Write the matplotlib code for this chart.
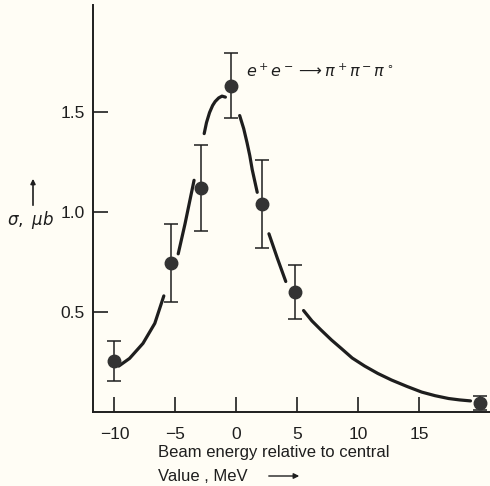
import matplotlib.pyplot as plt
import numpy as np

# measured points (beam energy in MeV, cross section in microbarn)
energy = [-10, -5.4, -2.9, -0.45, 2.1, 4.8, 20.0]
sigma = [0.256, 0.743, 1.12, 1.63, 1.04, 0.60, 0.045]
sigma_err = [0.10, 0.195, 0.215, 0.16, 0.22, 0.135, 0.035]

# hand drawn fit curve, broken up near each point (nan = gap)
curve_x = [-9.64, -8.76, -7.66, -6.69, -5.95, np.nan,
           -4.77, -4.21, -3.47, np.nan,
           -2.64, -2.45, -2.2, -1.95, -1.74, -1.45, -1.18, -0.9, np.nan,
           0.27, 0.6, 0.88, 1.10, 1.30, 1.71, np.nan,
           2.67, 3.36, 4.05, np.nan,
           5.51, 6.2, 6.94, 7.8, 8.60, 9.5, 10.52, 11.6, 12.73, 14.0,
           15.2, 16.3, 17.4, 18.3, 19.2]
curve_y = [0.23, 0.268, 0.343, 0.443, 0.58, np.nan,
           0.79, 0.94, 1.157, np.nan,
           1.39, 1.445, 1.495, 1.53, 1.55, 1.568, 1.577, 1.572, np.nan,
           1.48, 1.415, 1.343, 1.28, 1.21, 1.097, np.nan,
           0.89, 0.768, 0.652, np.nan,
           0.507, 0.455, 0.41, 0.36, 0.318, 0.27, 0.23, 0.193, 0.16, 0.128,
           0.10, 0.082, 0.068, 0.061, 0.056]

xticks = [-10, -5, 0, 5, 10, 15]
yticks = [0.5, 1.0, 1.5]

plt.rcParams['font.family'] = ['Liberation Sans', 'DejaVu Sans']

fig = plt.figure(figsize=(4.9, 4.86), dpi=100, facecolor='#fffdf5')
ax = fig.add_axes([0.19, 0.152, 0.81, 0.837])
ax.set_facecolor('#fffdf5')

ink = '#1e1e1e'
ax.plot(curve_x, curve_y, color=ink, lw=2.3, solid_capstyle='round')
ax.errorbar(energy, sigma, yerr=sigma_err, fmt='o', color='#333333',
            ms=9, ecolor=ink, elinewidth=1.1, capsize=5, capthick=1.1)

ax.set_xlim(-11.75, 20.8)
ax.set_ylim(0, 2.03)
ax.set_xticks(xticks)
ax.set_xticklabels(['\u221210', '\u22125', '0', '5', '10', '15'])
ax.set_yticks(yticks)
ax.set_yticklabels(['0.5', '1.0', '1.5'])
ax.tick_params(direction='in', length=11, width=1.2, color=ink,
               labelsize=12.5, labelcolor=ink)
ax.tick_params(axis='x', pad=11)
ax.tick_params(axis='y', pad=6)
for s in ['top', 'right']:
    ax.spines[s].set_visible(False)
for s in ['left', 'bottom']:
    ax.spines[s].set_linewidth(1.4)
    ax.spines[s].set_color(ink)

ax.text(0.8, 1.70, r'$e^+e^-\longrightarrow\pi^+\pi^-\pi^\circ$',
        fontsize=11.5, color=ink, va='center')

# axis labels drawn as free text like the original
fig.text(158 / 490, 1 - 452 / 486, 'Beam energy relative to central',
         fontsize=12, color=ink, va='center')
fig.text(158 / 490, 1 - 476 / 486, 'Value , MeV', fontsize=12,
         color=ink, va='center')
ax.annotate('', xy=(302 / 490, 1 - 476 / 486), xycoords='figure fraction',
            xytext=(266 / 490, 1 - 476 / 486), textcoords='figure fraction',
            arrowprops=dict(arrowstyle='-|>', color=ink, lw=1.0,
                            mutation_scale=8))

fig.text(30 / 490, 1 - 220 / 486, r'$\sigma,\ \mu b$', fontsize=12,
         color=ink, ha='center', va='center')
ax.annotate('', xy=(33 / 490, 1 - 176 / 486), xycoords='figure fraction',
            xytext=(33 / 490, 1 - 208 / 486), textcoords='figure fraction',
            arrowprops=dict(arrowstyle='-|>', color=ink, lw=1.2,
                            mutation_scale=7))

fig.savefig('out.png', dpi=100, facecolor=fig.get_facecolor())
